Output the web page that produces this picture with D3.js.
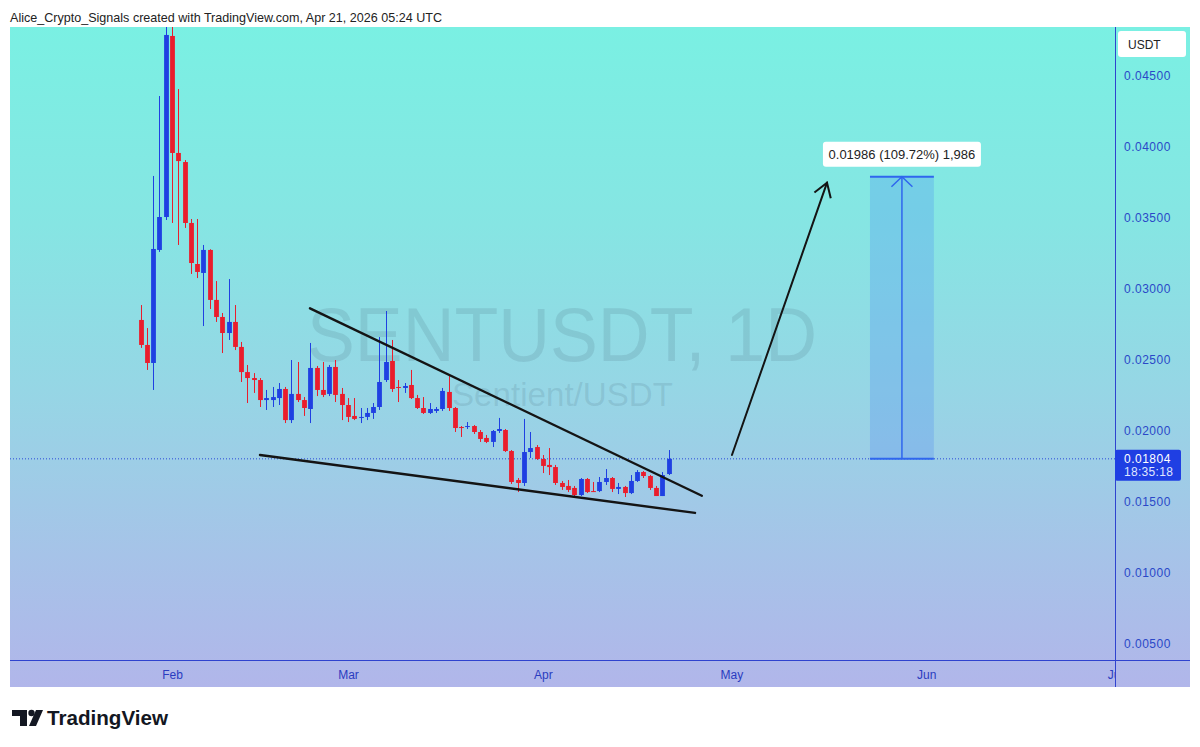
<!DOCTYPE html>
<html><head><meta charset="utf-8">
<script src="https://cdn.jsdelivr.net/npm/d3@7"></script>
<style>html,body{margin:0;padding:0;background:#fff;} svg{display:block;}</style>
</head><body>
<svg id="c" width="1200" height="747"></svg>
<script>
// ---------------- DATA ----------------
const dates = ["2026-01-27","2026-01-28","2026-01-29","2026-01-30","2026-01-31",
"2026-02-01","2026-02-02","2026-02-03","2026-02-04","2026-02-05","2026-02-06","2026-02-07","2026-02-08","2026-02-09","2026-02-10",
"2026-02-11","2026-02-12","2026-02-13","2026-02-14","2026-02-15","2026-02-16","2026-02-17","2026-02-18","2026-02-19","2026-02-20",
"2026-02-21","2026-02-22","2026-02-23","2026-02-24","2026-02-25","2026-02-26","2026-02-27","2026-02-28",
"2026-03-01","2026-03-02","2026-03-03","2026-03-04","2026-03-05","2026-03-06","2026-03-07","2026-03-08","2026-03-09","2026-03-10",
"2026-03-11","2026-03-12","2026-03-13","2026-03-14","2026-03-15","2026-03-16","2026-03-17","2026-03-18","2026-03-19","2026-03-20",
"2026-03-21","2026-03-22","2026-03-23","2026-03-24","2026-03-25","2026-03-26","2026-03-27","2026-03-28","2026-03-29","2026-03-30","2026-03-31",
"2026-04-01","2026-04-02","2026-04-03","2026-04-04","2026-04-05","2026-04-06","2026-04-07","2026-04-08","2026-04-09","2026-04-10",
"2026-04-11","2026-04-12","2026-04-13","2026-04-14","2026-04-15","2026-04-16","2026-04-17","2026-04-18","2026-04-19","2026-04-20","2026-04-21"];

const openV = [0.02782,0.02606,0.02479,0.03275,0.03507,
0.04782,0.03958,0.03894,0.03465,0.03176,0.03113,0.03275,0.02923,0.02803,0.02690,
0.02768,0.02592,0.02415,0.02373,0.02359,0.02218,0.02218,0.02232,0.02296,0.02077,
0.02261,0.02218,0.02155,0.02444,0.02289,0.02261,0.02451,0.02261,
0.02183,0.02106,0.02092,0.02099,0.02127,0.02169,0.02359,0.02493,0.02310,0.02303,
0.02324,0.02232,0.02162,0.02127,0.02141,0.02155,0.02275,0.02162,0.02028,0.02028,
0.02035,0.01993,0.01951,0.01923,0.02000,0.02007,0.01859,0.01655,0.01634,0.01852,0.01887,
0.01803,0.01761,0.01746,0.01634,0.01613,0.01599,0.01549,0.01662,0.01577,0.01577,
0.01641,0.01669,0.01592,0.01606,0.01563,0.01648,0.01711,0.01683,0.01599,0.01542,0.01697];

const highV = [0.02887,0.02725,0.03796,0.04359,0.04845,
0.04845,0.04408,0.03908,0.03493,0.03493,0.03310,0.03280,0.03056,0.02831,0.03070,
0.02887,0.02627,0.02465,0.02408,0.02373,0.02289,0.02310,0.02338,0.02310,0.02500,
0.02486,0.02239,0.02620,0.02458,0.02486,0.02465,0.02500,0.02303,
0.02232,0.02232,0.02162,0.02162,0.02197,0.02662,0.02845,0.02641,0.02359,0.02338,
0.02430,0.02254,0.02239,0.02197,0.02169,0.02303,0.02394,0.02169,0.02035,0.02063,
0.02042,0.02007,0.01972,0.02007,0.02092,0.02014,0.01866,0.01669,0.02085,0.01993,0.01901,
0.01831,0.01880,0.01761,0.01648,0.01655,0.01613,0.01669,0.01669,0.01641,0.01676,
0.01732,0.01676,0.01634,0.01613,0.01690,0.01725,0.01718,0.01690,0.01613,0.01711,0.01866];

const lowV = [0.02585,0.02430,0.02289,0.03261,0.03486,
0.03465,0.03310,0.03430,0.03106,0.03077,0.02739,0.02859,0.02768,0.02549,0.02641,
0.02570,0.02345,0.02197,0.02268,0.02169,0.02148,0.02169,0.02183,0.02056,0.02056,
0.02204,0.02106,0.02056,0.02246,0.02239,0.02246,0.02204,0.02077,
0.02063,0.02077,0.02056,0.02077,0.02085,0.02148,0.02345,0.02275,0.02204,0.02268,
0.02225,0.02155,0.02120,0.02120,0.02127,0.02141,0.02141,0.01993,0.01958,0.02014,
0.01979,0.01923,0.01915,0.01887,0.01986,0.01852,0.01627,0.01570,0.01613,0.01810,0.01796,
0.01704,0.01690,0.01620,0.01585,0.01570,0.01535,0.01542,0.01563,0.01570,0.01570,
0.01620,0.01570,0.01556,0.01535,0.01556,0.01641,0.01669,0.01585,0.01542,0.01542,0.01690];

const closeV = [0.02606,0.02479,0.03282,0.03507,0.04789,
0.03958,0.03901,0.03465,0.03183,0.03120,0.03275,0.02923,0.02803,0.02690,0.02768,
0.02592,0.02415,0.02373,0.02359,0.02218,0.02232,0.02239,0.02296,0.02077,0.02261,
0.02218,0.02162,0.02444,0.02289,0.02254,0.02451,0.02254,0.02183,
0.02099,0.02085,0.02099,0.02127,0.02169,0.02345,0.02486,0.02296,0.02303,0.02317,
0.02232,0.02162,0.02127,0.02155,0.02155,0.02282,0.02162,0.02021,0.02021,0.02035,
0.01993,0.01944,0.01923,0.02000,0.02014,0.01859,0.01641,0.01634,0.01852,0.01880,0.01803,
0.01754,0.01746,0.01634,0.01606,0.01585,0.01549,0.01662,0.01570,0.01574,0.01641,
0.01669,0.01592,0.01606,0.01563,0.01648,0.01711,0.01683,0.01599,0.01542,0.01690,0.01804];

const priceTicks = [0.005,0.010,0.015,0.020,0.025,0.030,0.035,0.040,0.045];
const monthTicks = ["2026-02-01","2026-03-01","2026-04-01","2026-05-01","2026-06-01","2026-07-01"];
const lastPrice = 0.01804;
const countdownText = "18:35:18";
const currencyText = "USDT";
const headerText = "Alice_Crypto_Signals created with TradingView.com, Apr 21, 2026 05:24 UTC";
const watermarkTitle = "SENTUSDT, 1D";
const watermarkSub = "Sentient/USDT";
// drawings (time, price)
const upperTrend = [["2026-02-22T23:00Z",0.02864],["2026-04-26T07:00Z",0.01544]];
const lowerTrend = [["2026-02-15T00:00Z",0.01831],["2026-04-25T05:00Z",0.01423]];
const projArrow = [["2026-05-01T02:00Z",0.01831],["2026-05-16T05:00Z",0.03749]];
const measureTimes = ["2026-05-23T01:00Z","2026-06-02T05:00Z"];
const measurePrices = [0.01804,0.03790];
const measureLabel = "0.01986 (109.72%) 1,986";

// ---------------- CHART ----------------
const svg = d3.select("#c");
const L = 10, R = 1190, T = 27, B = 687, axisX = 1115, axisY = 660;
const parseDay = d => new Date(d + (d.length === 10 ? "T00:00:00Z" : ""));
const FONT = "Liberation Sans, Arial, sans-serif";

const x = d3.scaleUtc()
  .domain([new Date("2026-02-01T00:00:00Z"), new Date("2026-03-01T00:00:00Z")])
  .range([172, 348]);
const y = d3.scaleLinear().domain([0.005, 0.045]).range([644, 76]);

const defs = svg.append("defs");
const bg = defs.append("linearGradient").attr("id","bg").attr("gradientUnits","userSpaceOnUse")
  .attr("x1",0).attr("y1",T).attr("x2",0).attr("y2",B);
[[0,"#7af0e3"],[0.3,"#86e5e3"],[0.55,"#96d6e5"],[0.8,"#a6c3e8"],[1,"#b1b6ea"]]
  .forEach(([o,c]) => bg.append("stop").attr("offset",o).attr("stop-color",c));
defs.append("clipPath").attr("id","plotClip").append("rect")
  .attr("x",L).attr("y",T).attr("width",axisX-L).attr("height",axisY-T);
defs.append("clipPath").attr("id","xClip").append("rect")
  .attr("x",L).attr("y",axisY).attr("width",axisX-L).attr("height",B-axisY);

svg.append("rect").attr("x",0).attr("y",0).attr("width",1200).attr("height",747).attr("fill","#fff");
svg.append("rect").attr("x",L).attr("y",T).attr("width",R-L).attr("height",B-T).attr("fill","url(#bg)");

// header
svg.append("text").attr("x",10).attr("y",21.5).text(headerText)
  .attr("font-family",FONT).attr("font-size",13).attr("fill","#222")
  .attr("textLength",432).attr("lengthAdjust","spacingAndGlyphs");

const plot = svg.append("g").attr("clip-path","url(#plotClip)");

// watermark
plot.append("text").attr("x",307).attr("y",361).text(watermarkTitle)
  .attr("font-family",FONT).attr("font-size",76)
  .attr("textLength",510).attr("lengthAdjust","spacingAndGlyphs")
  .attr("fill","rgba(70,105,125,0.17)");
plot.append("text").attr("x",452).attr("y",406).text(watermarkSub)
  .attr("font-family",FONT).attr("font-size",34)
  .attr("textLength",221).attr("lengthAdjust","spacingAndGlyphs")
  .attr("fill","rgba(70,105,125,0.17)");

// last price dotted line
plot.append("line").attr("x1",L).attr("x2",axisX).attr("y1",y(lastPrice)).attr("y2",y(lastPrice))
  .attr("stroke","#2a48d8").attr("stroke-width",1).attr("stroke-dasharray","1,2");

// candles
const candles = dates.map((d,i) => ({t: parseDay(d), o: openV[i], h: highV[i], l: lowV[i], c: closeV[i]}));
const up = "#1f40e2", dn = "#ea1d2c";
const cg = plot.append("g");
cg.selectAll("line.w").data(candles).join("line").attr("class","w")
  .attr("x1", d => Math.round(x(d.t)) + 0.5).attr("x2", d => Math.round(x(d.t)) + 0.5)
  .attr("y1", d => y(d.h)).attr("y2", d => y(d.l))
  .attr("stroke", d => d.c >= d.o ? up : dn).attr("stroke-width",1);
const bw = 4.8;
cg.selectAll("rect.b").data(candles).join("rect").attr("class","b")
  .attr("x", d => Math.round(x(d.t)) + 0.5 - bw/2).attr("width", bw)
  .attr("y", d => y(Math.max(d.o,d.c)))
  .attr("height", d => Math.max(1, Math.abs(y(d.o) - y(d.c))))
  .attr("fill", d => d.c >= d.o ? up : dn);

// trend lines
const pt = p => [x(new Date(p[0])), y(p[1])];
[upperTrend, lowerTrend].forEach(ln => {
  const a = pt(ln[0]), b = pt(ln[1]);
  plot.append("line").attr("x1",a[0]).attr("y1",a[1]).attr("x2",b[0]).attr("y2",b[1])
    .attr("stroke","#141414").attr("stroke-width",2.4).attr("stroke-linecap","round");
});
// projection arrow
{
  const a = pt(projArrow[0]), b = pt(projArrow[1]);
  plot.append("line").attr("x1",a[0]).attr("y1",a[1]).attr("x2",b[0]).attr("y2",b[1])
    .attr("stroke","#141414").attr("stroke-width",2).attr("stroke-linecap","round");
  const ang = Math.atan2(b[1]-a[1], b[0]-a[0]), len = 16, sp = Math.PI/5.5;
  const p1 = [b[0]-len*Math.cos(ang-sp), b[1]-len*Math.sin(ang-sp)];
  const p2 = [b[0]-len*Math.cos(ang+sp), b[1]-len*Math.sin(ang+sp)];
  plot.append("path").attr("d",`M${p1[0]},${p1[1]}L${b[0]},${b[1]}L${p2[0]},${p2[1]}`)
    .attr("fill","none").attr("stroke","#141414").attr("stroke-width",2).attr("stroke-linejoin","miter");
}
// measurement box
{
  const x0 = x(new Date(measureTimes[0])), x1 = x(new Date(measureTimes[1]));
  const yb = y(measurePrices[0]), yt = y(measurePrices[1]);
  const xm = (x0 + x1) / 2;
  plot.append("rect").attr("x",x0).attr("y",yt).attr("width",x1-x0).attr("height",yb-yt)
    .attr("fill","rgba(60,120,245,0.22)");
  plot.append("line").attr("x1",x0).attr("x2",x1).attr("y1",yt).attr("y2",yt).attr("stroke","#2f66ee").attr("stroke-width",2);
  plot.append("line").attr("x1",x0).attr("x2",x1).attr("y1",yb).attr("y2",yb).attr("stroke","#2f66ee").attr("stroke-width",2);
  plot.append("line").attr("x1",xm).attr("x2",xm).attr("y1",yb).attr("y2",yt).attr("stroke","#2f66ee").attr("stroke-width",1.5);
  plot.append("path").attr("d",`M${xm-10.5},${yt+10}L${xm},${yt}L${xm+10.5},${yt+10}`)
    .attr("fill","none").attr("stroke","#2f66ee").attr("stroke-width",1.5);
  const lab = svg.append("g");
  const lw = 158, lh = 25;
  lab.append("rect").attr("x",xm-lw/2).attr("y",yt-35).attr("width",lw).attr("height",lh)
    .attr("rx",3).attr("fill","#fff");
  lab.append("text").attr("x",xm).attr("y",yt-18).attr("text-anchor","middle").text(measureLabel)
    .attr("font-family",FONT).attr("font-size",13).attr("fill","#222");
}

// axes lines
const axisColor = "#2f43cf";
svg.append("line").attr("x1",L).attr("x2",R).attr("y1",axisY+0.5).attr("y2",axisY+0.5).attr("stroke",axisColor).attr("stroke-width",1);
svg.append("line").attr("x1",axisX+0.5).attr("x2",axisX+0.5).attr("y1",T).attr("y2",B).attr("stroke",axisColor).attr("stroke-width",1);

// y axis
const yAxis = svg.append("g").attr("transform",`translate(${axisX},0)`)
  .call(d3.axisRight(y).tickValues(priceTicks).tickFormat(d3.format(".5f")).tickSize(0).tickPadding(9));
yAxis.select(".domain").remove();
yAxis.selectAll("text").attr("font-family",FONT).attr("font-size",12)
  .attr("letter-spacing","0.5px").attr("fill","#2a48c8");

// x axis
const xAxis = svg.append("g").attr("clip-path","url(#xClip)").append("g").attr("transform",`translate(0,${axisY})`)
  .call(d3.axisBottom(x).tickValues(monthTicks.map(parseDay)).tickFormat(d3.utcFormat("%b")).tickSize(0).tickPadding(10));
xAxis.select(".domain").remove();
xAxis.selectAll("text").attr("font-family","Liberation Sans Narrow, Liberation Sans, Arial, sans-serif").attr("font-size",12)
  .attr("fill","#2a3cc0");

// USDT box
svg.append("rect").attr("x",1118).attr("y",31).attr("width",68).attr("height",26).attr("rx",3).attr("fill","#fff");
svg.append("text").attr("x",1128).attr("y",48.5).text(currencyText)
  .attr("font-family",FONT).attr("font-size",12).attr("fill","#222");

// last price label
{
  const yy = y(lastPrice);
  svg.append("rect").attr("x",axisX).attr("y",yy-9).attr("width",66).attr("height",31).attr("rx",2).attr("fill","#1f3fe3");
  svg.append("text").attr("x",axisX+9).attr("y",yy+4.5).text(d3.format(".5f")(lastPrice))
    .attr("font-family",FONT).attr("font-size",12).attr("letter-spacing","0.5px").attr("fill","#fff");
  svg.append("text").attr("x",axisX+9).attr("y",yy+17.5).text(countdownText)
    .attr("font-family",FONT).attr("font-size",12).attr("letter-spacing","0.3px").attr("fill","#dfe6ff");
}

// TradingView logo
{
  const g = svg.append("g").attr("fill","#131722");
  g.append("path").attr("d","M12,710 H27 V726 H20 V716 H12 Z");
  g.append("circle").attr("cx",31.5).attr("cy",713).attr("r",3.2);
  g.append("path").attr("d","M36,710 H43 L36,726 H29 Z");
  g.append("text").attr("x",47).attr("y",725).text("TradingView")
    .attr("font-family",FONT).attr("font-weight","bold").attr("font-size",20)
    .attr("textLength",121).attr("lengthAdjust","spacingAndGlyphs");
}
</script>
</body></html>
